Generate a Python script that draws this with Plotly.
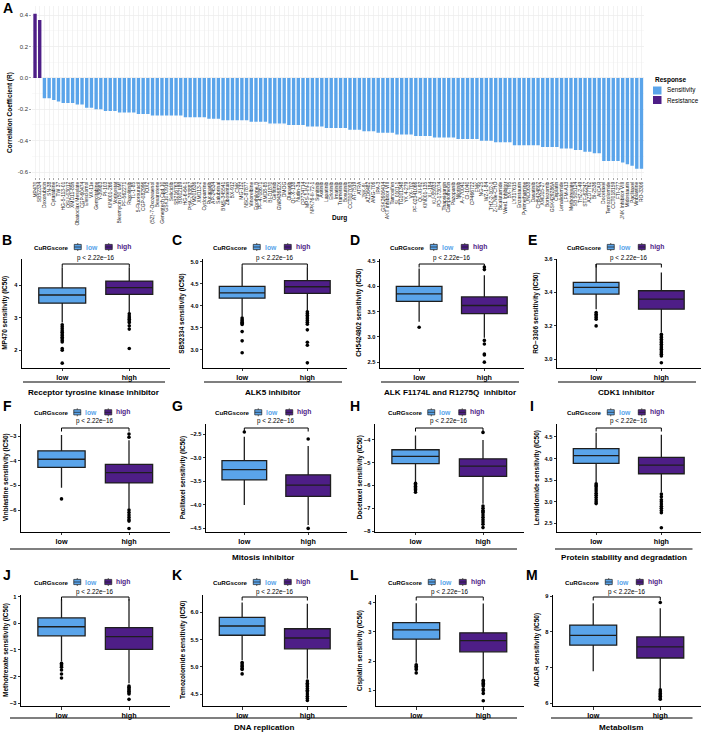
import plotly.graph_objects as go

W, H = 708, 734
FONT = "Liberation Sans, Arial, sans-serif"
BLUE = "#5AA4EA"
PURPLE = "#4E1E87"
EDGE = "#1E1E1E"

# ---------------- Panel A data ----------------
drug_names = [
    "MP470", "SB52334", "Doxorubicin", "SN-38", "Cytarabine", "TW 37", "HG-5-113-01", "OSU-03012", "XMD11-85h", "Obatoclax Mesylate",
    "CGP-60474", "Elesclomol", "VX-11e", "Gemcitabine", "Y-39983", "PI-103", "KIN001-266", "Vorinostat", "Bleomycin (50 uM)", "PF-562271",
    "Ruxolitinib", "TL-1-85", "5-Fluorouracil", "CGP-082996", "IOX2", "(5Z)-7-Oxozeaenol", "Bexarotene", "Genentech Cpd 10", "GSK1070916", "Seliciclib",
    "SB216763", "BIX02189", "HG-6-64-1", "PHA-793887", "YM201636", "XMD13-2", "Cyclopamine", "Rucaparib", "AP-24534", "Salubrinal",
    "BMS-345541", "Zibotentan", "BX-912", "CMK", "MG-132", "NSC-87877", "Vinorelbine", "Epothilone B", "PF-4708671", "XMD8-85",
    "BI-D1870", "Gefitinib", "GW843682X", "DMOG", "Olaparib", "QL-X-138", "Nutlin-3a", "CP724714", "MPS-1-IN-1", "NPK76-II-72-1",
    "Sunitinib", "Axitinib", "Lapatinib", "Erlotinib", "Imatinib", "Trametinib", "Bosutinib", "CCT007093", "AT-7519", "ATRA",
    "JNK-9L", "AZD6482", "AMG-706", "IPA-3", "GSK2606414", "AKT inhibitor VIII", "Tamoxifen", "SL 0101-1", "TG101348", "YK 4-279",
    "VX-702", "PF-02341066", "QL-XI-92", "KIN001-135", "XL-184", "KU-55933", "PD-173074", "Thapsigargin", "Camptothecin", "Pazopanib",
    "Nilotinib", "A-770041", "CI-1040", "CP466722", "FMK", "NG-25", "WZ-1-84", "THZ-2-102-1", "Z-LLNle-CHO", "Bicalutamide",
    "Wee1 Inhibitor", "BX-795", "LY317615", "Enzastaurin", "Pyrimethamine", "UNC0638", "Dasatinib", "CH5424802", "XMD15-27", "Bortezomib",
    "GSK429286A", "Cisplatin", "Lenalidomide", "LFM-A13", "Methotrexate", "SB 505124", "THZ-2-49", "STF-62247", "AZD7762", "BI-2536",
    "AICAR", "Docetaxel", "Temozolomide", "CCT018159", "FTI-277", "JNK Inhibitor VIII", "Midostaurin", "Paclitaxel", "Vinblastine", "RO-3306",
]
corr_values = [
    0.41, 0.37, -0.13, -0.13, -0.14, -0.15, -0.16, -0.16, -0.16, -0.17,
    -0.17, -0.19, -0.19, -0.20, -0.20, -0.21, -0.21, -0.21, -0.22, -0.22,
    -0.22, -0.22, -0.23, -0.23, -0.23, -0.24, -0.24, -0.24, -0.24, -0.24,
    -0.24, -0.24, -0.25, -0.25, -0.25, -0.25, -0.25, -0.26, -0.26, -0.26,
    -0.27, -0.27, -0.27, -0.27, -0.27, -0.27, -0.28, -0.28, -0.28, -0.28,
    -0.29, -0.29, -0.29, -0.29, -0.30, -0.30, -0.30, -0.30, -0.31, -0.31,
    -0.31, -0.31, -0.32, -0.32, -0.32, -0.32, -0.32, -0.33, -0.33, -0.33,
    -0.34, -0.34, -0.34, -0.35, -0.35, -0.35, -0.35, -0.36, -0.36, -0.36,
    -0.36, -0.37, -0.37, -0.37, -0.37, -0.38, -0.38, -0.38, -0.38, -0.38,
    -0.39, -0.39, -0.39, -0.39, -0.39, -0.40, -0.40, -0.40, -0.41, -0.41,
    -0.41, -0.41, -0.43, -0.43, -0.43, -0.43, -0.43, -0.43, -0.44, -0.44,
    -0.44, -0.44, -0.45, -0.45, -0.45, -0.46, -0.46, -0.47, -0.47, -0.48,
    -0.48, -0.53, -0.53, -0.53, -0.53, -0.54, -0.55, -0.56, -0.58, -0.58,
]
a_yticks = [-0.6, -0.4, -0.2, 0.0, 0.2, 0.4]

# ---------------- Box panels data ----------------
box_drugs = ["MP470", "SB52334", "CH5424802", "RO\u22123306", "Vinblastine", "Paclitaxel",
             "Docetaxel", "Lenalidomide", "Methotrexate", "Temozolomide", "Cisplatin", "AICAR"]
panel_letters = ["B", "C", "D", "E", "F", "G", "H", "I", "J", "K", "L", "M"]
box_groups = ["low", "high"]

low_q1 = [3.45, 4.17, 3.70, 3.39, -4.27, -3.47, -5.04, 3.89, -0.47, 5.58, 2.75, 7.63]
low_med = [3.70, 4.29, 3.85, 3.43, -3.94, -3.25, -4.72, 4.07, -0.13, 5.75, 3.07, 7.90]
low_q3 = [3.92, 4.44, 4.00, 3.46, -3.60, -3.06, -4.43, 4.23, 0.20, 5.91, 3.32, 8.19]
low_lo = [2.85, 3.75, 3.30, 3.30, -5.10, -4.00, -5.85, 3.45, -1.43, 5.12, 1.95, 6.90]
low_hi = [4.55, 4.87, 4.35, 3.57, -2.96, -2.55, -3.80, 4.60, 0.90, 6.18, 3.98, 8.80]
low_out = [
    [2.78, 2.72, 2.66, 2.60, 2.55, 2.50, 2.45, 2.40, 2.35, 2.30, 2.25, 2.05, 2.00, 1.60],
    [3.72, 3.68, 3.65, 3.62, 3.60, 3.57, 3.41, 3.20, 2.93],
    [3.19],
    [3.28, 3.27, 3.26, 3.25, 3.24, 3.20],
    [-5.55],
    [-2.45],
    [-5.90, -5.97, -6.03, -6.10, -6.15, -6.20, -6.30],
    [3.42, 3.38, 3.35, 3.30, 3.25, 3.20, 3.15, 3.10, 3.05, 3.00, 2.96],
    [-1.50, -1.55, -1.60, -1.65, -1.75, -1.90, -2.05],
    [5.08, 5.05, 5.02, 5.00, 4.97, 4.95, 4.87],
    [1.88, 1.83, 1.78, 1.72, 1.60],
    [],
]
high_q1 = [3.72, 4.28, 3.46, 3.30, -4.90, -3.82, -5.60, 3.65, -0.98, 5.33, 2.32, 7.27]
high_med = [3.93, 4.43, 3.62, 3.36, -4.48, -3.58, -5.15, 3.85, -0.50, 5.53, 2.70, 7.58]
high_q3 = [4.13, 4.57, 3.79, 3.41, -4.15, -3.36, -4.83, 4.03, -0.16, 5.70, 2.97, 7.86]
high_lo = [3.15, 3.88, 2.98, 3.16, -5.95, -4.43, -6.80, 3.22, -2.25, 4.78, 1.40, 6.41]
high_hi = [4.55, 4.87, 4.22, 3.52, -3.17, -2.75, -4.00, 4.55, 0.90, 6.16, 3.97, 8.66]
high_out = [
    [3.12, 3.05, 3.00, 2.95, 2.90, 2.85, 2.75, 2.65, 2.05],
    [3.86, 3.82, 3.78, 3.74, 3.70, 3.66, 3.62, 3.58, 3.45, 3.17, 3.10, 2.70],
    [4.38, 4.33, 2.93, 2.86, 2.66, 2.64, 2.50],
    [3.15, 3.14, 3.13, 3.12, 3.11, 3.10, 3.09, 3.08, 3.07, 3.06, 3.05, 3.04, 3.03, 3.02, 2.98],
    [-2.92, -3.05, -6.00, -6.10, -6.20, -6.30, -6.40, -6.45, -6.75],
    [-2.60, -4.50],
    [-3.67, -6.90, -7.00, -7.10, -7.15, -7.20, -7.30, -7.40, -7.50, -7.60, -7.70, -7.85],
    [3.18, 3.12, 3.05, 3.00, 2.95, 2.90, 2.85, 2.80, 2.75, 2.40],
    [-2.35, -2.40, -2.45, -2.50, -2.55, -2.60, -2.65, -2.85],
    [4.74, 4.70, 4.67, 4.64, 4.60, 4.57, 4.54, 4.50, 4.46, 4.42, 4.38],
    [1.35, 1.30, 1.25, 1.20, 1.15, 1.05, 1.00, 0.90, 0.65],
    [8.82, 6.38, 6.33, 6.28, 6.24, 6.20, 6.15, 6.12],
]
p_label = "p < 2.22e\u221216"
y_ticks = [
    [2, 3, 4], [3.0, 3.5, 4.0, 4.5, 5.0], [2.5, 3.0, 3.5, 4.0, 4.5], [3.0, 3.2, 3.4, 3.6],
    [-6, -5, -4, -3], [-4.5, -4.0, -3.5, -3.0, -2.5], [-8, -7, -6, -5, -4], [2.5, 3.0, 3.5, 4.0, 4.5],
    [-3, -2, -1, 0, 1], [4.5, 5.0, 5.5, 6.0], [1, 2, 3, 4], [6, 7, 8, 9],
]
y_tick_dec = [0, 1, 1, 1, 0, 1, 0, 1, 0, 1, 0, 0]
y_ranges = [
    [1.46, 4.81], [2.59, 5.06], [2.39, 4.54], [2.95, 3.60],
    [-6.88, -2.51], [-4.57, -2.28], [-8.03, -3.30], [2.31, 4.80],
    [-3.10, 1.06], [4.28, 6.32], [0.47, 4.26], [5.93, 9.03],
]
group_labels_row1 = ["Receptor tyrosine kinase inhibitor", "ALK5 inhibitor",
                     "ALK F1174L and R1275Q  inhibitor", "CDK1 inhibitor"]
group_labels_row23 = [["Mitosis inhibitor", "Protein stability and degradation"],
                      ["DNA replication", "Metabolism"]]

# ---------------- geometry (pixels) ----------------
def px(x):
    return x / W

def py(y):
    return 1 - y / H

COL_START = [0, 177, 354, 531]
AX_OFF = [[22, 26, 26, 26], [21, 29, 21, 26], [21, 26, 22, 22]]
RIGHT_OFF = 169.5
ROW_TOP = [259, 424, 595]
ROW_BOT = [367.7, 531.7, 706]
LEGEND_Y = [247, 412.3, 582]
P_Y = [258, 421, 591.5]
BRACKET_Y = [264, 428, 597]
GROUP_LINE_Y = [382, 549, 718]
GROUP_LABEL_Y = [392.5, 557.3, 727.5]
LETTER_Y = [240, 406, 575]
LETTER_X = [7, 177, 355, 532]

fig = go.Figure()
shapes = []
ann = []

def line(x0, y0, x1, y1, color="black", width=1, xref="paper", yref="paper"):
    shapes.append(dict(type="line", xref=xref, yref=yref, x0=x0, y0=y0, x1=x1, y1=y1,
                       line=dict(color=color, width=width), layer="above"))

def text(x, y, s, size=7, color="black", xanchor="center", yanchor="middle", angle=0, bold=True):
    ann.append(dict(x=x, y=y, xref="paper", yref="paper", text=("<b>%s</b>" % s) if bold else s,
                    showarrow=False, xanchor=xanchor, yanchor=yanchor, textangle=angle,
                    font=dict(size=size, color=color, family=FONT)))

# ---------------- Panel A ----------------
sens_x = [d for d, v in zip(drug_names, corr_values) if v < 0]
sens_y = [v for v in corr_values if v < 0]
res_x = [d for d, v in zip(drug_names, corr_values) if v >= 0]
res_y = [v for v in corr_values if v >= 0]
fig.add_trace(go.Bar(x=sens_x, y=sens_y, marker=dict(color=BLUE, line=dict(width=0)), width=0.72,
                     showlegend=False, xaxis="x", yaxis="y", hoverinfo="skip"))
fig.add_trace(go.Bar(x=res_x, y=res_y, marker=dict(color=PURPLE, line=dict(width=0)), width=0.72,
                     showlegend=False, xaxis="x", yaxis="y", hoverinfo="skip"))

A_LEFT, A_RIGHT, A_TOP, A_BOT = 32.2, 644.3, 5.9, 176.7
layout_axes = dict(
    xaxis=dict(domain=[px(A_LEFT), px(A_RIGHT)], anchor="y", type="category",
               categoryorder="array", categoryarray=drug_names, range=[-0.6, len(drug_names) - 0.4],
               tickmode="linear", tick0=0, dtick=1, tickangle=-90,
               tickfont=dict(size=5.0, color="#1A1A1A", family=FONT),
               showgrid=True, gridcolor="#EBEBEB", gridwidth=0.6, showline=False, zeroline=False,
               ticks="outside", ticklen=2, tickcolor="#555555", tickwidth=0.5, automargin=False),
    yaxis=dict(domain=[py(A_BOT), py(A_TOP)], anchor="x", range=[-0.63, 0.46],
               tickmode="array", tickvals=a_yticks, ticktext=["%.1f" % t for t in a_yticks],
               tickfont=dict(size=6, color="#333333", family=FONT),
               showgrid=True, gridcolor="#EBEBEB", gridwidth=0.7,
               minor=dict(tickmode="array", tickvals=[-0.5, -0.3, -0.1, 0.1, 0.3], showgrid=True,
                          gridcolor="#F4F4F4", gridwidth=0.5),
               showline=False, zeroline=False, ticks="outside", ticklen=2, tickcolor="#555555",
               tickwidth=0.5, automargin=False),
)
text(px(8), py(8), "A", size=14)
text(px(10), py(113), "Correlation Coefficient (R)", size=6.5, angle=-90)
text(px(339), py(218), "Durg", size=6.5)
# legend for A (drawn manually)
text(px(652.5), py(80.5), "Response", size=6.5, xanchor="left")
for k, (lab, col) in enumerate([("Sensitivity", BLUE), ("Resistance", PURPLE)]):
    yc = 90.5 + k * 9.5
    shapes.append(dict(type="rect", xref="paper", yref="paper", x0=px(653), x1=px(661.5),
                       y0=py(yc - 4), y1=py(yc + 4), fillcolor=col, line=dict(width=0)))
    text(px(664.5), py(yc), lab, size=6.3, xanchor="left", bold=False)

# ---------------- Box panels ----------------
for i in range(12):
    r, c = divmod(i, 4)
    n = i + 2
    xa, ya = "x%d" % n, "y%d" % n
    left = COL_START[c] + AX_OFF[r][c]
    right = COL_START[c] + RIGHT_OFF
    pc = (left + right) / 2
    dec = y_tick_dec[i]
    layout_axes["xaxis%d" % n] = dict(
        domain=[px(left), px(right)], anchor=ya, type="category", categoryorder="array",
        categoryarray=box_groups, range=[-0.6, 1.6], showline=True, linecolor="black", linewidth=1,
        ticks="outside", ticklen=2.5, tickcolor="black", tickwidth=0.8,
        tickfont=dict(size=7.2, color="black", family=FONT, weight="bold"),
        showgrid=False, zeroline=False, automargin=False)
    layout_axes["yaxis%d" % n] = dict(
        domain=[py(ROW_BOT[r]), py(ROW_TOP[r])], anchor=xa, range=y_ranges[i],
        tickmode="array", tickvals=y_ticks[i],
        ticktext=[("%.*f" % (dec, t)).replace("-", "\u2212") for t in y_ticks[i]],
        showline=True, linecolor="black", linewidth=1, ticks="outside", ticklen=2.5,
        tickcolor="black", tickwidth=0.8,
        tickfont=dict(size=5.7, color="black", family=FONT, weight="bold"),
        showgrid=False, zeroline=False, automargin=False)

    stats = [(box_groups[0], low_q1[i], low_med[i], low_q3[i], low_lo[i], low_hi[i], low_out[i], BLUE),
             (box_groups[1], high_q1[i], high_med[i], high_q3[i], high_lo[i], high_hi[i], high_out[i], PURPLE)]
    for g, q1, md, q3, lo, hi, outs, col in stats:
        fig.add_trace(go.Box(x=[g], q1=[q1], median=[md], q3=[q3], lowerfence=[lo], upperfence=[hi],
                             fillcolor=col, line=dict(color=EDGE, width=1.3), width=0.7,
                             whiskerwidth=0, boxpoints=False, showlegend=False,
                             xaxis=xa, yaxis=ya, hoverinfo="skip"))
        if outs:
            fig.add_trace(go.Scatter(x=[g] * len(outs), y=outs, mode="markers",
                                     marker=dict(color="black", size=3.6, line=dict(width=0)),
                                     showlegend=False, xaxis=xa, yaxis=ya, hoverinfo="skip"))

    # bracket + p value
    by = BRACKET_Y[r]
    line(box_groups[0], py(by), box_groups[1], py(by), width=1, xref=xa)
    line(box_groups[0], py(by), box_groups[0], py(by + 3.5), width=1, xref=xa)
    line(box_groups[1], py(by), box_groups[1], py(by + 3.5), width=1, xref=xa)
    text(px(pc), py(P_Y[r]), p_label, size=6.3, bold=False)

    # legend row
    ly = LEGEND_Y[r]
    text(px(pc - 44), py(ly), "CuRGscore", size=6.2)
    for off, col, lab in [(-18, BLUE, "low"), (13, PURPLE, "high")]:
        shapes.append(dict(type="rect", xref="paper", yref="paper", x0=px(pc + off - 3.5), x1=px(pc + off + 3.5),
                           y0=py(ly + 2.6), y1=py(ly - 2.6), fillcolor=col, line=dict(color=EDGE, width=0.7)))
        line(px(pc + off - 3.5), py(ly), px(pc + off + 3.5), py(ly), color=EDGE, width=0.7)
        line(px(pc + off), py(ly - 2.6), px(pc + off), py(ly - 4), color=EDGE, width=0.7)
        line(px(pc + off), py(ly + 2.6), px(pc + off), py(ly + 4), color=EDGE, width=0.7)
        text(px(pc + off + 6), py(ly), lab, size=6.8, color=col, xanchor="left")

    # y title and panel letter
    text(px(COL_START[c] + 5.5), py((ROW_TOP[r] + ROW_BOT[r]) / 2), "%s sensitivity (IC50)" % box_drugs[i],
         size=6.5, angle=-90)
    text(px(LETTER_X[c]), py(LETTER_Y[r]), panel_letters[i], size=14)

    # group labels
    if r == 0:
        gl, gr = left + 1, right - 4.5
        line(px(gl), py(GROUP_LINE_Y[r]), px(gr), py(GROUP_LINE_Y[r]), width=1.1)
        text(px((gl + gr) / 2), py(GROUP_LABEL_Y[r]), group_labels_row1[c], size=8.1)
    elif c == 0:
        gl, gr = 10, COL_START[2] + 163
        line(px(gl), py(GROUP_LINE_Y[r]), px(gr), py(GROUP_LINE_Y[r]), width=1.1)
        text(px((gl + gr) / 2), py(GROUP_LABEL_Y[r]), group_labels_row23[r - 1][0], size=8.1)
    elif c == 3:
        gl, gr = left - 2, right - 8
        line(px(gl), py(GROUP_LINE_Y[r]), px(gr), py(GROUP_LINE_Y[r]), width=1.1)
        text(px((gl + gr) / 2), py(GROUP_LABEL_Y[r]), group_labels_row23[r - 1][1], size=8.1)

fig.update_layout(
    width=W, height=H, margin=dict(l=0, r=0, t=0, b=0),
    paper_bgcolor="white", plot_bgcolor="white", showlegend=False, barmode="overlay",
    font=dict(family=FONT, color="black"),
    shapes=shapes, annotations=ann, **layout_axes,
)
fig.write_html("out.html", config={"displayModeBar": False, "staticPlot": True},
               post_script="document.body.style.margin='0';document.body.style.overflow='hidden';")
